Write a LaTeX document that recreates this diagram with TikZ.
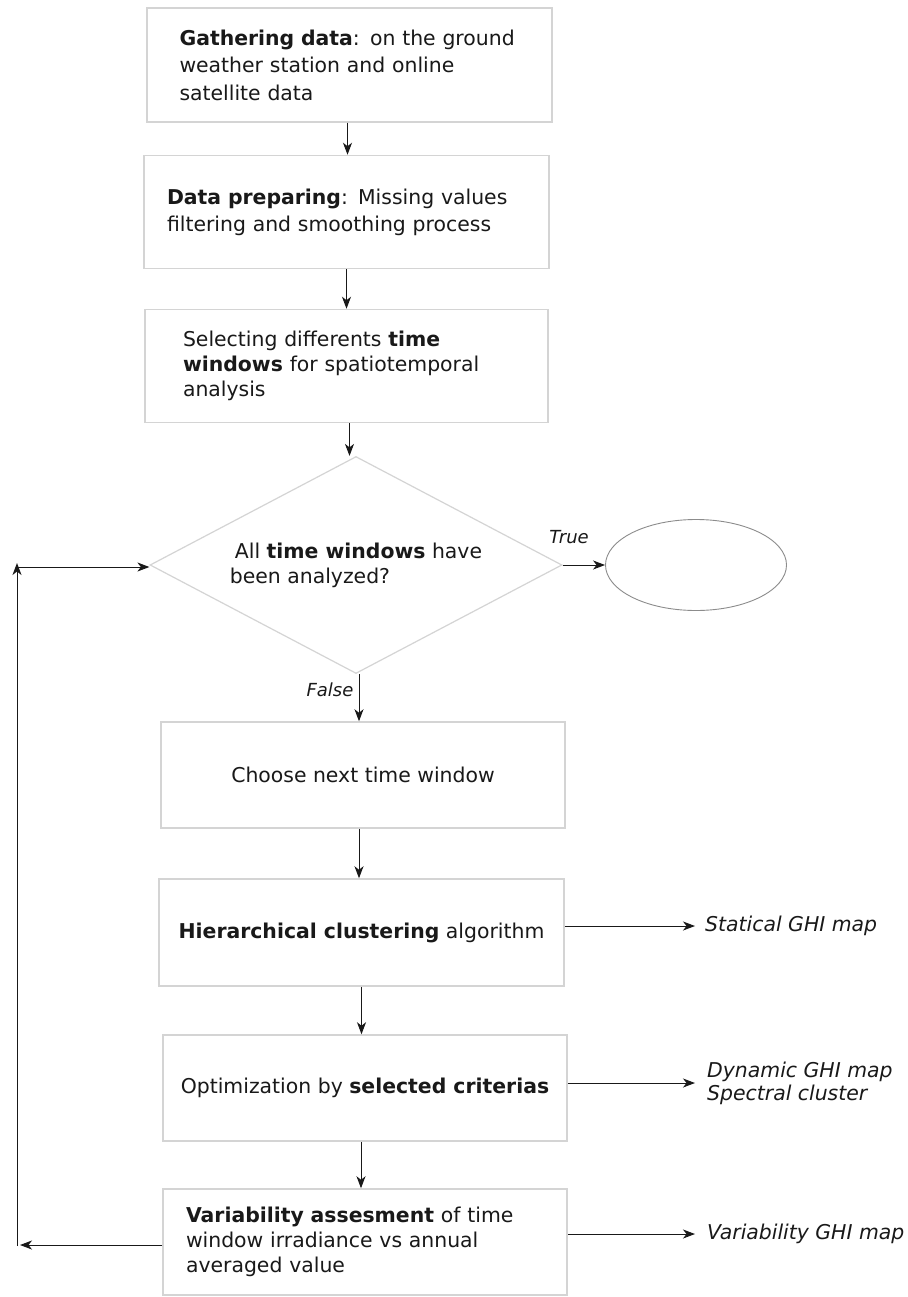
\documentclass[tikz,border=0pt]{standalone}
\usepackage{fontspec}
\setmainfont{DejaVu Sans}
\usetikzlibrary{arrows.meta,shapes.geometric}
\definecolor{boxgray}{RGB}{212,212,212}
\definecolor{ellgray}{RGB}{140,140,140}
\definecolor{ink}{RGB}{25,25,25}
\newcommand\flowfont{\fontsize{20.4}{25}\selectfont}
\begin{document}
\begin{tikzpicture}[x=1pt,y=-1pt,
  box/.style={draw=boxgray, line width=1.5pt, rectangle, inner sep=0pt,
    text=ink, font=\flowfont},
  dec/.style={draw=boxgray, line width=1.2pt, diamond, shape aspect=1.9, inner sep=0pt,
    text=ink, font=\flowfont, align=left},
  term/.style={draw=ellgray, line width=0.9pt, ellipse, inner sep=0pt},
  outlbl/.style={inner sep=0pt, text=ink, font=\fontsize{20.4}{23}\selectfont\itshape, align=left},
  brlbl/.style={inner sep=0pt, text=ink, font=\fontsize{18}{20}\selectfont\itshape},
  arr/.style={draw=ink, line width=1pt, -{Stealth[length=12pt,width=9pt,inset=3.5pt]}},
  plain/.style={draw=ink, line width=1pt}
]
\useasboundingbox (0,0) rectangle (907,1297);
\fill[white] (0,0) rectangle (907,1297);

\node[box, minimum width=405, minimum height=114, text width=340, align=left,
  font=\fontsize{20.4}{27.5}\selectfont] (b1) at (349.5,65)
  {\textbf{Gathering data}: on the ground\\weather station and online\\satellite data};
\node[box, minimum width=405, minimum height=113, text width=359, align=left,
  font=\fontsize{20.4}{27}\selectfont] (b2) at (346.5,212)
  {\textbf{Data preparing}: Missing values\\filtering and smoothing process};
\node[box, minimum width=403, minimum height=113, text width=327, align=left] (b3) at (346.5,366)
  {Selecting differents \textbf{time}\\\textbf{windows} for spatiotemporal\\analysis};
\node[dec, minimum width=412, minimum height=217] (d) at (356,565)
  {\hspace*{5pt}All \textbf{time windows} have\\been analyzed?};
\node[term, minimum width=181, minimum height=91] (e) at (696,565) {};
\node[box, minimum width=404, minimum height=106] (b4) at (363,775)
  {Choose next time window};
\node[box, minimum width=405, minimum height=107] (b5) at (361.5,932.5)
  {\textbf{Hierarchical clustering} algorithm};
\node[box, minimum width=404, minimum height=106] (b6) at (365,1088)
  {Optimization by \textbf{selected criterias}};
\node[box, minimum width=404, minimum height=106, text width=358, align=left] (b7) at (365,1242)
  {\textbf{Variability assesment} of time\\window irradiance vs annual\\averaged value};

\node[outlbl, anchor=west] (o1) at (705,926) {Statical GHI map};
\node[outlbl, anchor=west] (o2) at (707,1083) {Dynamic GHI map\\Spectral cluster};
\node[outlbl, anchor=west] (o3) at (707,1234) {Variability GHI map};

\node[brlbl] (tl) at (569,537) {True};
\node[brlbl] (fl) at (330,690) {False};

% main flow
\draw[arr] ([xshift=-2pt]b1.south) -- ([xshift=-2pt]b1.south |- b2.north);
\draw[arr] (b2.south) -- (b2.south |- b3.north);
\draw[arr] ([xshift=3pt]b3.south) -- ([xshift=3pt]b3.south |- d.north);
\draw[arr] ([xshift=3pt]d.south) -- ([xshift=3pt]d.south |- b4.north);
\draw[arr] ([xshift=-4pt]b4.south) -- ([xshift=-4pt]b4.south |- b5.north);
\draw[arr] (b5.south) -- (b5.south |- b6.north);
\draw[arr] ([xshift=-4pt]b6.south) -- ([xshift=-4pt]b6.south |- b7.north);
\draw[arr] (d.east) -- (e.west);

% outputs
\draw[arr] (b5.east |- o1.west) -- ([xshift=-10pt]o1.west);
\draw[arr] (b6.east |- o2.west) -- ([xshift=-12pt]o2.west);
\draw[arr] (b7.east |- o3.west) -- ([xshift=-12pt]o3.west);

% loop back
\coordinate (lb) at (17,1245);
\coordinate (lt) at (17,567);
\draw[arr] (b7.west |- lb) -- ([xshift=3pt]lb);
\draw[arr] ([yshift=-1pt]lb) -- ([yshift=4pt]lt);
\draw[arr] (lt) -- (lt -| d.west);
\end{tikzpicture}
\end{document}
